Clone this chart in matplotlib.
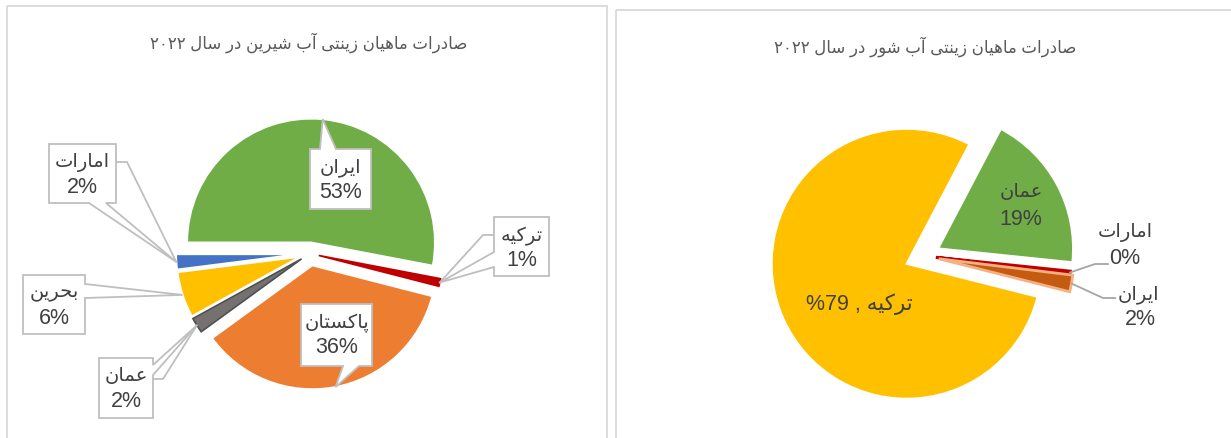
import re
import numpy as np
import matplotlib
matplotlib.use("Agg")
import matplotlib.pyplot as plt
from matplotlib.patches import Polygon, Rectangle

W, H = 1231, 439

# fresh water exports 2022
fresh_title = "صادرات ماهیان زینتی آب شیرین در سال ۲۰۲۲"
fresh_countries = ["ایران", "ترکیه", "پاکستان", "عمان", "بحرین", "امارات"]
fresh_share = [53, 1, 36, 2, 6, 2]
fresh_colors = ["#70AD47", "#C00000", "#ED7D31", "#767171", "#FFC000", "#4472C4"]

# salt water exports 2022
salt_title = "صادرات ماهیان زینتی آب شور در سال ۲۰۲۲"
salt_countries = ["عمان", "امارات", "ایران", "ترکیه"]
salt_share = [19, 0.3, 2, 79]
salt_colors = ["#70AD47", "#C00000", "#C55A11", "#FFC000"]

TXT = "#404040"
LINE = "#bfbfbf"

# contextual forms (isolated, final, initial, medial) for the letters used here
JOIN = {
    "\u0622": (0xFE81, 0xFE82),
    "\u0627": (0xFE8D, 0xFE8E),
    "\u062F": (0xFEA9, 0xFEAA),
    "\u0631": (0xFEAD, 0xFEAE),
    "\u0632": (0xFEAF, 0xFEB0),
    "\u0648": (0xFEED, 0xFEEE),
    "\u0628": (0xFE8F, 0xFE90, 0xFE91, 0xFE92),
    "\u062A": (0xFE95, 0xFE96, 0xFE97, 0xFE98),
    "\u062D": (0xFEA1, 0xFEA2, 0xFEA3, 0xFEA4),
    "\u0633": (0xFEB1, 0xFEB2, 0xFEB3, 0xFEB4),
    "\u0634": (0xFEB5, 0xFEB6, 0xFEB7, 0xFEB8),
    "\u0635": (0xFEB9, 0xFEBA, 0xFEBB, 0xFEBC),
    "\u0639": (0xFEC9, 0xFECA, 0xFECB, 0xFECC),
    "\u0644": (0xFEDD, 0xFEDE, 0xFEDF, 0xFEE0),
    "\u0645": (0xFEE1, 0xFEE2, 0xFEE3, 0xFEE4),
    "\u0646": (0xFEE5, 0xFEE6, 0xFEE7, 0xFEE8),
    "\u0647": (0xFEE9, 0xFEEA, 0xFEEB, 0xFEEC),
    "\u06CC": (0xFEEF, 0xFEF0, 0xFEF3, 0xFEF4),
    "\u06A9": (0xFB8E, 0xFB8F, 0xFB90, 0xFB91),
    "\u067E": (0xFB56, 0xFB57, 0xFB58, 0xFB59),
}


def shape(s):
    # no bidi/shaping in matplotlib, so do it by hand
    out = []
    for i, ch in enumerate(s):
        f = JOIN.get(ch)
        if f is None:
            out.append(ch)
            continue
        prev = JOIN.get(s[i - 1]) if i > 0 else None
        nxt = JOIN.get(s[i + 1]) if i + 1 < len(s) else None
        after = prev is not None and len(prev) == 4
        before = len(f) == 4 and nxt is not None
        k = 3 if (after and before) else 1 if after else 2 if before else 0
        out.append(chr(f[k]))
    runs = re.findall(r"[0-9\u06F0-\u06F9%]+|[^0-9\u06F0-\u06F9%]", "".join(out))
    return "".join(reversed(runs))


def tip_of(w):
    # outer point of a wedge at its mid angle
    t = np.radians((w.theta1 + w.theta2) / 2)
    return (w.center[0] + w.r * np.cos(t), w.center[1] + w.r * np.sin(t))


def callout(ax, box, tail, tip, leader=None):
    x0, y0, x1, y1 = box
    side, a, b = tail
    if side == "top":
        pts = [(x0, y0), (a, y0), tip, (b, y0), (x1, y0), (x1, y1), (x0, y1)]
    elif side == "bottom":
        pts = [(x0, y0), (x1, y0), (x1, y1), (b, y1), tip, (a, y1), (x0, y1)]
    elif side == "right":
        pts = [(x0, y0), (x1, y0), (x1, a), tip, (x1, b), (x1, y1), (x0, y1)]
    else:
        pts = [(x0, y0), (x1, y0), (x1, y1), (x0, y1), (x0, b), tip, (x0, a)]
    ax.add_patch(Polygon(pts, closed=True, facecolor="white", edgecolor=LINE,
                         lw=1.3, zorder=5))
    if leader is not None:
        xs, xe, y = leader
        ax.plot([xs, xe, tip[0]], [y, y, tip[1]], color=LINE, lw=1.3, zorder=4)


plt.rcParams["font.family"] = ["Liberation Sans", "DejaVu Sans"]

fig = plt.figure(figsize=(W / 100, H / 100), dpi=100)
ax = fig.add_axes([0, 0, 1, 1])

# panel frames
ax.add_patch(Rectangle((7, 7), 600, 445, fill=False, edgecolor="#d9d9d9", lw=1.3))
ax.add_patch(Rectangle((616, 10.5), 640, 445, fill=False, edgecolor="#d9d9d9", lw=1.3))

# left pie (y axis is inverted, so counterclock=True turns clockwise on screen)
wl, _ = ax.pie(fresh_share, colors=fresh_colors, radius=124, center=(310, 254.5),
               startangle=180, counterclock=True, frame=True,
               explode=[11, 9, 12, 10, 10, 10],
               wedgeprops=dict(edgecolor="white", linewidth=1.5))
wl[1].set_edgecolor("#C00000")
wl[1].set_linewidth(1.2)
wl[3].set_edgecolor("#505050")
wl[3].set_linewidth(1.2)

# right pie
wr, _ = ax.pie(salt_share, colors=salt_colors, radius=135, center=(924, 257),
               startangle=-62.3, counterclock=True, frame=True,
               explode=[16, 12, 15, 19],
               wedgeprops=dict(edgecolor="white", linewidth=1.5))
wr[1].set_edgecolor("#C00000")
wr[1].set_linewidth(2.2)
wr[2].set_edgecolor("#F4B183")
wr[2].set_linewidth(2)

ax.set_xlim(0, W)
ax.set_ylim(H, 0)
ax.set_aspect("auto")
ax.axis("off")

ax.text(309, 43, shape(fresh_title), ha="center", va="center", fontsize=12,
        color="#595959")
ax.text(925, 47, shape(salt_title), ha="center", va="center", fontsize=12,
        color="#595959")

# left callouts: box, tail, leader
boxes = {
    0: ((310, 150, 371, 210), ("top", 320, 336), None),
    1: ((494, 218, 549, 277), ("left", 253, 268), (494, 483, 236)),
    2: ((301, 305, 372, 367), ("bottom", 343, 359), None),
    3: ((99, 359, 153, 419), ("right", 366, 376), (153, 163, 380)),
    4: ((23, 276, 85, 335), ("right", 285, 299), None),
    5: ((49, 145, 116, 204), ("bottom", 89, 106), (116, 127, 163)),
}
for i, (box, tail, leader) in boxes.items():
    callout(ax, box, tail, tip_of(wl[i]), leader)
    cx = (box[0] + box[2]) / 2
    ax.text(cx, box[1] + 18, shape(fresh_countries[i]), ha="center", va="center",
            fontsize=14, color=TXT, zorder=6)
    ax.text(cx, box[1] + 43, f"{fresh_share[i]}%", ha="center", va="center",
            fontsize=15.5, color=TXT, zorder=6)

# right labels
ax.text(1021, 193, shape(salt_countries[0]), ha="center", va="center", fontsize=14, color=TXT)
ax.text(1021, 220, f"{salt_share[0]}%", ha="center", va="center", fontsize=15.5, color=TXT)
ax.text(1125, 233, shape(salt_countries[1]), ha="center", va="center", fontsize=14, color=TXT)
ax.text(1125, 259, f"{round(salt_share[1])}%", ha="center", va="center", fontsize=15.5, color=TXT)
ax.text(1138, 295, shape(salt_countries[2]), ha="center", va="center", fontsize=14, color=TXT)
ax.text(1140, 320, f"{salt_share[2]}%", ha="center", va="center", fontsize=15.5, color=TXT)
ax.text(859, 304, f"%{salt_share[3]} , " + shape(salt_countries[3]), ha="center",
        va="center", fontsize=15.5, color=TXT)

for i, (xs, xe, y) in [(1, (1108, 1095, 265)), (2, (1115, 1103, 299))]:
    t = tip_of(wr[i])
    ax.plot([xs, xe, t[0]], [y, y, t[1]], color="#a6a6a6", lw=1.3)

fig.savefig("out.png", dpi=100)
